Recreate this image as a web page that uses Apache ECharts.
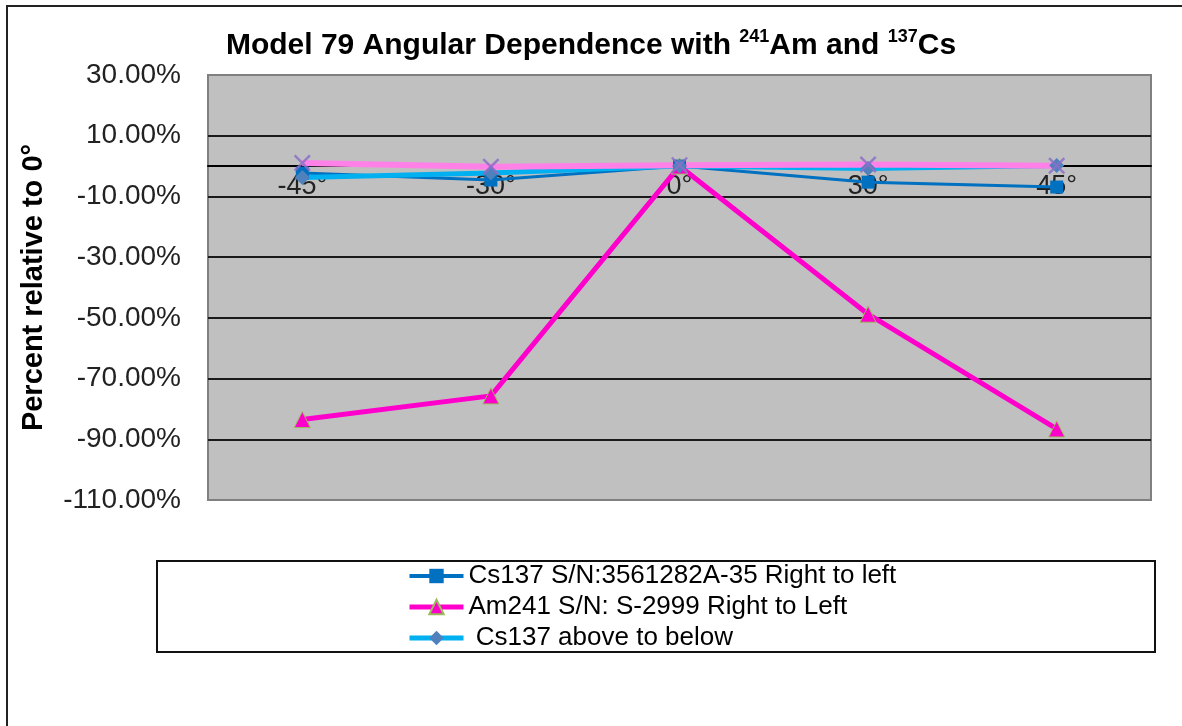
<!DOCTYPE html>
<html><head><meta charset="utf-8">
<script src="https://cdn.jsdelivr.net/npm/echarts@6/dist/echarts.min.js"></script>
<style>html,body{margin:0;padding:0;background:#fff}#c{width:1182px;height:726px}</style>
</head><body><div id="c"></div>
<script>
const categories = ['-45°', '-30°', '0°', '30°', '45°'];
const cs137RightToLeft = [-0.023, -0.046, 0, -0.053, -0.069];
const am241RightToLeft = [-0.835, -0.757, 0, -0.488, -0.866];
const cs137AboveToBelow = [-0.038, -0.023, 0, -0.008, 0.002];
const am241AboveToBelow = [0.010, -0.002, 0.003, 0.005, 0.001];
const seriesNames = ['Cs137 S/N:3561282A-35 Right to left', 'Am241 S/N: S-2999 Right to Left', ' Cs137 above to below', 'Am241 above to below'];
const yTicks = { min: -1.1, max: 0.3, interval: 0.2 };

const FONT = '"Liberation Sans", Arial, sans-serif';
const GRID_TOP = 75, GRID_BOTTOM_PX = 500;
const zeroY = GRID_TOP + (yTicks.max / (yTicks.max - yTicks.min)) * (GRID_BOTTOM_PX - GRID_TOP);
const chart = echarts.init(document.getElementById('c'));
chart.setOption({
  animation: false,
  backgroundColor: '#fff',
  title: {
    left: 'center', top: 23,
    text: '{b|Model 79 Angular Dependence with }{s|241}{b|Am and }{s|137}{b|Cs}',
    textStyle: {
      rich: {
        b: { fontSize: 30, fontWeight: 'bold', fontFamily: FONT, color: '#000', lineHeight: 36 },
        s: { fontSize: 18, fontWeight: 'bold', fontFamily: FONT, color: '#000', verticalAlign: 'top' }
      }
    }
  },
  graphic: [
    { type: 'rect', shape: { x: 7, y: 6, width: 1200, height: 800 }, style: { fill: 'none', stroke: '#222', lineWidth: 2 }, silent: true, z: -10 },
    { type: 'rect', shape: { x: 157, y: 561, width: 998, height: 91 }, style: { fill: 'none', stroke: '#111', lineWidth: 2 }, silent: true }
  ],
  grid: {
    left: 208, right: 31, top: GRID_TOP, bottom: 726 - GRID_BOTTOM_PX, show: true,
    backgroundColor: '#C0C0C0', borderColor: '#808080', borderWidth: 2
  },
  legend: {
    data: [
      { name: seriesNames[0], lineStyle: { width: 4 } },
      { name: seriesNames[1], lineStyle: { width: 5 } },
      { name: seriesNames[2], lineStyle: { width: 5 } }
    ],
    orient: 'vertical', left: 407, top: 563, padding: 0,
    itemWidth: 54, itemHeight: 18, itemGap: 5,
    textStyle: { fontSize: 26, fontFamily: FONT, color: '#000', lineHeight: 25 }
  },
  xAxis: {
    type: 'category', data: categories, boundaryGap: true,
    offset: -(GRID_BOTTOM_PX - zeroY),
    axisLine: { onZero: false, lineStyle: { color: '#000', width: 2 } },
    axisTick: { show: false },
    axisLabel: { fontSize: 27, fontFamily: FONT, color: '#222', margin: 7 }
  },
  yAxis: {
    type: 'value', min: yTicks.min, max: yTicks.max, interval: yTicks.interval,
    name: 'Percent relative to 0°', nameLocation: 'middle', nameGap: 160,
    nameTextStyle: { fontSize: 29, fontWeight: 'bold', fontFamily: FONT, color: '#000' },
    axisLine: { show: false }, axisTick: { show: false },
    axisLabel: { fontSize: 28, fontFamily: FONT, color: '#222', margin: 27,
      formatter: v => (v * 100).toFixed(2) + '%' },
    splitLine: { show: true, showMinLine: false, showMaxLine: false, lineStyle: { color: '#1a1a1a', width: 2 } }
  },
  series: [
    { name: seriesNames[0], type: 'line', data: cs137RightToLeft,
      symbol: 'rect', symbolSize: 13,
      lineStyle: { color: '#0070C0', width: 3 }, itemStyle: { color: '#0070C0' } },
    { name: seriesNames[1], type: 'line', data: am241RightToLeft,
      symbol: 'triangle', symbolSize: 16,
      lineStyle: { color: '#FF00CC', width: 5 }, itemStyle: { color: '#FF00CC', borderColor: '#9BBB59', borderWidth: 1 } },
    { name: seriesNames[2], type: 'line', data: cs137AboveToBelow,
      symbol: 'diamond', symbolSize: 15,
      lineStyle: { color: '#00B0F0', width: 5 }, itemStyle: { color: '#4F81BD' } },
    { name: seriesNames[3], type: 'line', data: am241AboveToBelow,
      symbol: 'path://M0,1 L1,0 L5,4 L9,0 L10,1 L6,5 L10,9 L9,10 L5,6 L1,10 L0,9 L4,5 Z', symbolSize: 17,
      lineStyle: { color: '#FF80E6', width: 6 }, itemStyle: { color: 'rgba(140,110,200,0.85)' } }
  ]
});
</script></body></html>
